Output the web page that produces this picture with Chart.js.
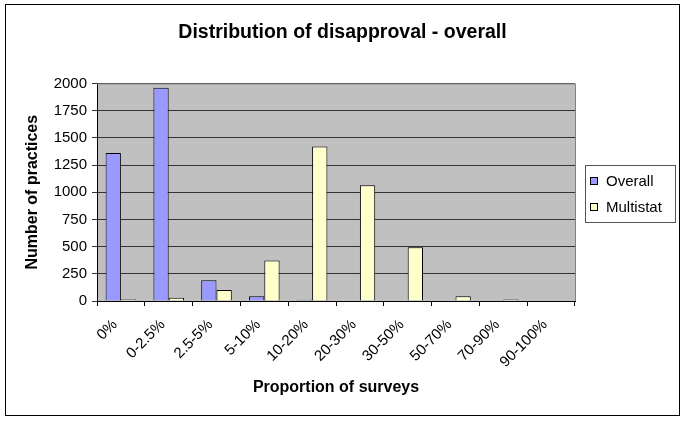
<!DOCTYPE html>
<html>
<head>
<meta charset="utf-8">
<script src="https://cdn.jsdelivr.net/npm/chart.js@4.4.1/dist/chart.umd.min.js"></script>
<style>
  html, body { margin: 0; padding: 0; background: #fff; }
  canvas { display: block; }
</style>
</head>
<body>
<canvas id="chart" width="685" height="421"></canvas>
<script>
// Data
const categories = ['0%', '0-2.5%', '2.5-5%', '5-10%', '10-20%', '20-30%', '30-50%', '50-70%', '70-90%', '90-100%'];
const overallCounts = [1360, 1960, 190, 43, 12, 0, 0, 0, 0, 0];
const multistatCounts = [14, 30, 100, 373, 1419, 1064, 495, 43, 14, 0];
const seriesLabels = ['Overall', 'Multistat'];
const yMax = 2000;
const yStep = 250;

const FONT = "Arial, 'Liberation Sans', sans-serif";

// Grey plot area, outer frame and the boxed legend (Excel style)
const framePlugin = {
    id: 'frame',
    afterLayout(chart) {
        // centre the title over the whole canvas, not just the plot side
        if (chart.titleBlock) {
            chart.titleBlock.left = 0;
            chart.titleBlock.right = chart.width;
            chart.titleBlock.width = chart.width;
        }
    },
    beforeDraw(chart) {
        const { ctx, chartArea: a } = chart;
        ctx.save();
        ctx.fillStyle = '#fff';
        ctx.fillRect(0, 0, chart.width, chart.height);
        ctx.fillStyle = '#c0c0c0';
        ctx.fillRect(a.left, a.top, a.right - a.left, a.bottom - a.top);
        ctx.restore();
    },
    afterDraw(chart) {
        const { ctx, chartArea: a } = chart;
        ctx.save();
        // plot border top/right
        ctx.strokeStyle = '#808080';
        ctx.lineWidth = 1;
        ctx.beginPath();
        ctx.moveTo(a.left, a.top + 0.5);
        ctx.lineTo(a.right + 0.5, a.top + 0.5);
        ctx.lineTo(a.right + 0.5, a.bottom);
        ctx.stroke();

        // outer frame
        ctx.strokeStyle = '#000';
        ctx.strokeRect(5.5, 4.5, 674, 411);

        // legend box
        const lx = 585, ly = 165, lw = 90, lh = 57;
        ctx.fillStyle = '#fff';
        ctx.fillRect(lx, ly, lw, lh);
        ctx.strokeStyle = '#555';
        ctx.strokeRect(lx + 0.5, ly + 0.5, lw, lh);
        ctx.font = '15px ' + FONT;
        ctx.textBaseline = 'middle';
        chart.data.datasets.forEach((ds, i) => {
            const cy = ly + 16 + i * 26;
            ctx.fillStyle = ds.backgroundColor;
            ctx.fillRect(lx + 5, cy - 4, 8, 8);
            ctx.strokeStyle = '#000';
            ctx.strokeRect(lx + 5.5, cy - 3.5, 7, 7);
            ctx.fillStyle = '#000';
            ctx.fillText(ds.label, lx + 21, cy + 1);
        });
        ctx.restore();
    }
};

const ctx = document.getElementById('chart').getContext('2d');

new Chart(ctx, {
    type: 'bar',
    data: {
        labels: categories,
        datasets: [{
            label: seriesLabels[0],
            data: overallCounts,
            backgroundColor: '#9999ff',
            borderColor: '#000',
            borderWidth: 1,
            categoryPercentage: 0.64,
            barPercentage: 1.0
        }, {
            label: seriesLabels[1],
            data: multistatCounts,
            backgroundColor: '#ffffcc',
            borderColor: '#000',
            borderWidth: 1,
            categoryPercentage: 0.64,
            barPercentage: 1.0
        }]
    },
    options: {
        responsive: false,
        animation: false,
        layout: {
            padding: { top: 0, right: 110, bottom: 0, left: 0 }
        },
        plugins: {
            legend: { display: false },
            tooltip: { enabled: false },
            title: {
                display: true,
                text: 'Distribution of disapproval - overall',
                color: '#000',
                font: { family: FONT, size: 19.5, weight: 'bold' },
                padding: { top: 21, bottom: 39 }
            }
        },
        scales: {
            x: {
                offset: true,
                afterFit: (scale) => { scale.height = 120; },
                grid: {
                    offset: true,
                    drawOnChartArea: false,
                    drawTicks: true,
                    tickLength: 5,
                    color: '#000'
                },
                border: { color: '#000' },
                ticks: {
                    color: '#000',
                    font: { family: FONT, size: 15 },
                    minRotation: 45,
                    maxRotation: 45,
                    padding: 10,
                    labelOffset: -6,
                    autoSkip: false
                },
                title: {
                    display: true,
                    text: 'Proportion of surveys',
                    color: '#000',
                    font: { family: FONT, size: 16, weight: 'bold' },
                    padding: { top: 0, bottom: 24 }
                }
            },
            y: {
                min: 0,
                max: yMax,
                afterFit: (scale) => { scale.width = 97; },
                grid: {
                    color: '#333',
                    tickLength: 5
                },
                border: { color: '#000' },
                ticks: {
                    stepSize: yStep,
                    color: '#000',
                    font: { family: FONT, size: 15 },
                    padding: 5,
                    callback: (value) => String(value)
                },
                title: {
                    display: true,
                    text: 'Number of practices',
                    color: '#000',
                    font: { family: FONT, size: 16, weight: 'bold' },
                    padding: { top: 23, bottom: 0 }
                }
            }
        }
    },
    plugins: [framePlugin]
});
</script>
</body>
</html>
